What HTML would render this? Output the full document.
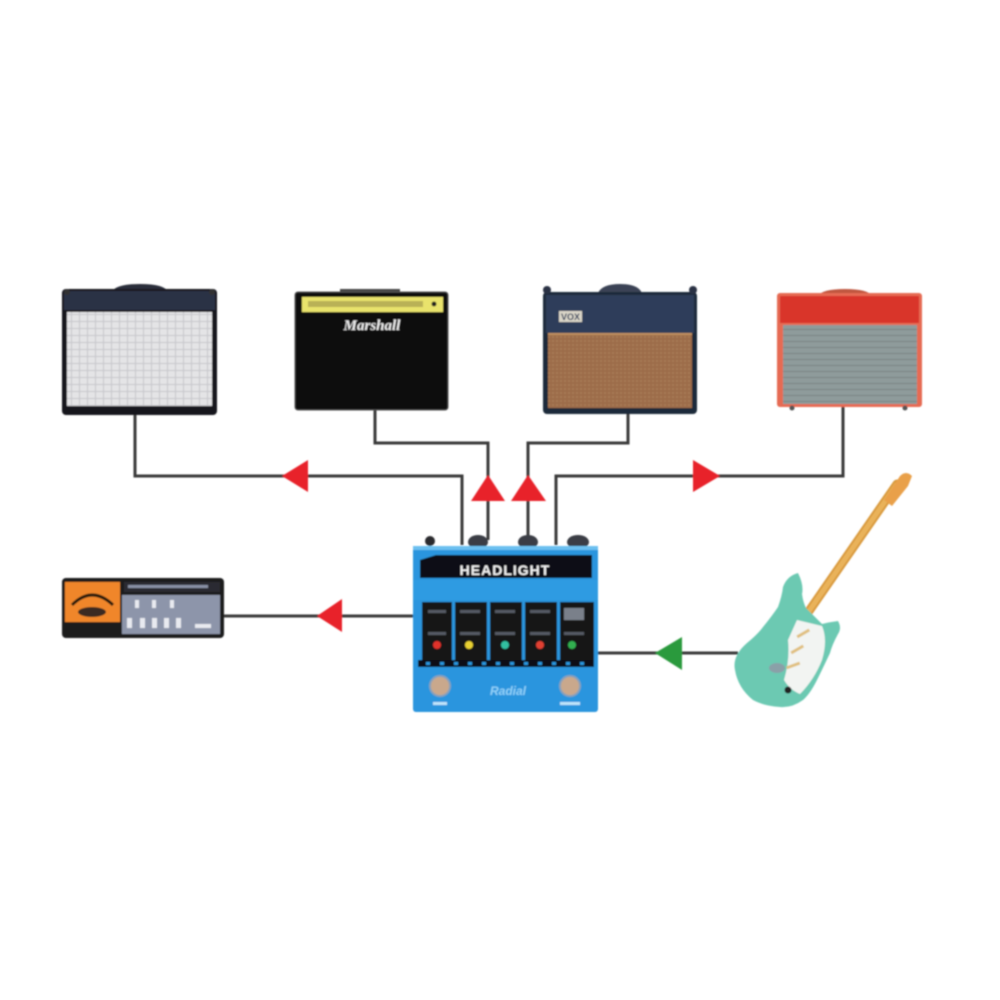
<!DOCTYPE html>
<html><head><meta charset="utf-8"><style>
html,body{margin:0;padding:0;background:#fff;}
svg{display:block;}
</style></head><body>
<svg width="1000" height="1000" viewBox="0 0 1000 1000" xmlns="http://www.w3.org/2000/svg">
<rect width="1000" height="1000" fill="#fff"/>
<defs>
<pattern id="fgrid" width="8" height="7" patternUnits="userSpaceOnUse">
<rect width="8" height="7" fill="#e4e4e6"/>
<path d="M0 6.5H8M7.5 0V7" stroke="#c6c6ca" stroke-width="1"/>
</pattern>
<pattern id="rgrid" width="6" height="6" patternUnits="userSpaceOnUse">
<rect width="6" height="6" fill="#8f9b9b"/>
<path d="M0 5.5H6" stroke="#7a8585" stroke-width="1.2"/>
</pattern>
<pattern id="vgrid" width="4" height="4" patternUnits="userSpaceOnUse">
<rect width="4" height="4" fill="#9c6c48"/>
<rect width="2" height="2" fill="#a87a55"/>
</pattern>
<filter id="soft" x="-5%" y="-5%" width="110%" height="110%"><feGaussianBlur stdDeviation="0.7"/></filter>
</defs>
<g filter="url(#soft)">
<!-- connectors -->
<g fill="none" stroke="#3a3a3a" stroke-width="3">
<polyline points="135,413 135,476 462,476 462,545"/>
<polyline points="375,408 375,443 488,443 488,540"/>
<polyline points="628,412 628,443 528,443 528,540"/>
<polyline points="843,405 843,476 556,476 556,545"/>
<line x1="222" y1="616" x2="414" y2="616"/>
<line x1="598" y1="653" x2="738" y2="653"/>
</g>
<g fill="#e8222a">
<polygon points="282,476 308,460 308,492"/>
<polygon points="488,475 471,501 505,501"/>
<polygon points="528,475 511,501 546,501"/>
<polygon points="720,476 693,460 693,492"/>
<polygon points="317,616 342,599 342,632"/>
</g>
<polygon points="655,653 682,637 682,670" fill="#2a9a3c"/>

<!-- Amp 1 Fender -->
<g>
<path d="M112 292 Q115 284 140 284 Q165 284 168 292 Z" fill="#2b2f3a"/>
<rect x="62" y="289" width="155" height="126" rx="4" fill="#17191f"/>
<rect x="64" y="291" width="151" height="19" fill="#2c3244"/>
<circle cx="67" cy="292" r="3" fill="#333"/><circle cx="212" cy="292" r="3" fill="#333"/>
<rect x="67" y="312" width="145" height="94" fill="url(#fgrid)"/>
</g>

<!-- Amp 2 Marshall -->
<g>
<rect x="340" y="289" width="60" height="5" fill="#444"/>
<rect x="295" y="292" width="153" height="118" rx="3" fill="#0c0c0e" stroke="#555" stroke-width="1"/>
<rect x="302" y="297" width="141" height="15" fill="#e9e36c"/>
<rect x="308" y="301" width="115" height="6" fill="#b9b156"/>
<circle cx="434" cy="304" r="2.5" fill="#222"/>
<text x="372" y="330" font-family="Liberation Serif, serif" font-style="italic" font-weight="bold" font-size="15" fill="#eee" text-anchor="middle">Marshall</text>
</g>

<!-- Amp 3 Vox -->
<g>
<path d="M598 293 Q602 284 620 284 Q638 284 642 293 Z" fill="#3a4254"/>
<rect x="543" y="292" width="154" height="122" rx="4" fill="#1f293b"/>
<circle cx="547" cy="290" r="4" fill="#2a3345"/><circle cx="693" cy="290" r="4" fill="#2a3345"/>
<rect x="546" y="295" width="148" height="38" fill="#2e3d5a"/>
<rect x="548" y="334" width="144" height="74" fill="url(#vgrid)"/>
<rect x="548" y="333" width="144" height="2" fill="#c09060"/>
<rect x="559" y="311" width="23" height="11" fill="#dad6c8"/>
<text x="570.5" y="320" font-family="Liberation Sans, sans-serif" font-weight="bold" font-size="9" fill="#2e3d5a" text-anchor="middle">VOX</text>
</g>

<!-- Amp 4 red -->
<g>
<path d="M818 296 Q822 289 845 289 Q868 289 872 296 Z" fill="#c0563f"/>
<rect x="777" y="293" width="145" height="114" rx="3" fill="#e66a52"/>
<rect x="780" y="296" width="139" height="27" fill="#d9342a"/>
<rect x="783" y="325" width="134" height="79" fill="url(#rgrid)"/>
<circle cx="792" cy="408" r="2.5" fill="#555"/><circle cx="905" cy="408" r="2.5" fill="#555"/>
</g>

<!-- Interface -->
<g>
<rect x="62" y="578" width="162" height="60" rx="4" fill="#1a1a1c"/>
<rect x="65" y="582" width="55" height="40" fill="#f0862c"/>
<path d="M72 605 Q92 585 113 605" fill="none" stroke="#2a1a10" stroke-width="3"/>
<ellipse cx="92" cy="612" rx="14" ry="5" fill="#3a2a20"/>
<rect x="70" y="623" width="45" height="12" fill="#1a1a1c"/>
<rect x="124" y="582" width="96" height="10" fill="#2a2a30"/>
<rect x="128" y="585" width="80" height="3" fill="#8890a4"/>
<rect x="122" y="595" width="98" height="39" fill="#8d95aa"/>
<g fill="#e8eaf0"><rect x="135" y="600" width="4" height="8"/><rect x="152" y="600" width="4" height="8"/><rect x="170" y="600" width="4" height="8"/>
<rect x="127" y="618" width="5" height="10"/><rect x="140" y="618" width="5" height="10"/><rect x="152" y="618" width="5" height="10"/><rect x="164" y="618" width="5" height="10"/><rect x="176" y="618" width="5" height="10"/><rect x="195" y="624" width="16" height="4"/></g>
</g>

<!-- Pedal -->
<g>
<circle cx="430" cy="541" r="5" fill="#2a2a2e"/>
<ellipse cx="478" cy="542" rx="10" ry="7" fill="#3a3d45"/>
<ellipse cx="528" cy="542" rx="10" ry="7" fill="#3a3d45"/>
<ellipse cx="578" cy="542" rx="11" ry="7" fill="#3a3d45"/>
<rect x="413" y="546" width="185" height="166" rx="3" fill="#2a95de"/>
<rect x="413" y="546" width="185" height="4" fill="#6cc0f0"/>
<path d="M420 560 L436 555 L592 555 L592 578 L420 578 Z" fill="#0d1015"/>
<text x="505" y="575" font-family="Liberation Sans, sans-serif" font-weight="bold" font-size="14" letter-spacing="1" fill="#f4f4f4" text-anchor="middle">HEADLIGHT</text>
<rect x="413" y="580" width="185" height="20" fill="#2f9be2"/>
<rect x="422" y="602" width="172" height="60" fill="#121418"/>
<g fill="#2a95de"><rect x="452" y="602" width="3" height="58"/><rect x="487" y="602" width="3" height="58"/><rect x="522" y="602" width="3" height="58"/><rect x="557" y="602" width="3" height="58"/></g>
<g fill="#555a64"><rect x="428" y="610" width="18" height="3"/><rect x="460" y="610" width="20" height="3"/><rect x="495" y="610" width="20" height="3"/><rect x="530" y="610" width="20" height="3"/><rect x="564" y="608" width="20" height="12" fill="#7a808a"/>
<rect x="428" y="632" width="18" height="3"/><rect x="460" y="632" width="20" height="3"/><rect x="495" y="632" width="20" height="3"/><rect x="530" y="632" width="20" height="3"/><rect x="564" y="632" width="20" height="3"/></g>
<circle cx="437" cy="645" r="4" fill="#e0302a"/>
<circle cx="469" cy="645" r="4" fill="#e8d030"/>
<circle cx="505" cy="645" r="4" fill="#30c0a0"/>
<circle cx="540" cy="645" r="4" fill="#e04030"/>
<circle cx="572" cy="645" r="4" fill="#30b050"/>
<rect x="418" y="660" width="176" height="7" fill="#0e0f12"/>
<g fill="#2a95de"><rect x="426" y="662" width="4" height="3"/><rect x="440" y="662" width="4" height="3"/><rect x="454" y="662" width="4" height="3"/><rect x="468" y="662" width="4" height="3"/><rect x="482" y="662" width="4" height="3"/><rect x="496" y="662" width="4" height="3"/><rect x="510" y="662" width="4" height="3"/><rect x="524" y="662" width="4" height="3"/><rect x="538" y="662" width="4" height="3"/><rect x="552" y="662" width="4" height="3"/><rect x="566" y="662" width="4" height="3"/><rect x="580" y="662" width="4" height="3"/></g>
<circle cx="440" cy="686" r="10" fill="#c9a88c" stroke="#8aa0b8" stroke-width="2"/>
<circle cx="570" cy="686" r="10" fill="#c9a88c" stroke="#8aa0b8" stroke-width="2"/>
<text x="508" y="695" font-family="Liberation Sans, sans-serif" font-weight="bold" font-style="italic" font-size="12" fill="#8fd0f8" text-anchor="middle">Radial</text>
<rect x="433" y="702" width="14" height="3" fill="#bfe4fa"/><rect x="560" y="702" width="20" height="3" fill="#bfe4fa"/>
</g>

<!-- Guitar -->
<g>
<path d="M807 614 L897 484" stroke="#d99a3c" stroke-width="9" stroke-linecap="round"/>
<path d="M807 614 L897 484" stroke="#e9b25a" stroke-width="5"/>
<path d="M884 500 L900 476 Q906 470 912 476 L908 486 L892 506 Z" fill="#e9a04a"/>
<path d="M798 573 Q804 585 802 594 Q803 602 806 608 L822 624 Q830 622 838 621 Q842 628 838 634 Q832 645 830 653 Q822 670 817 680 Q810 694 803 700 Q792 708 780 707 Q764 706 753 700 Q738 688 735 670 Q732 656 747 643 Q758 634 763 627 Q772 616 778 607 Q782 596 783 587 Q787 576 798 573 Z" fill="#6cc9b2"/>
<path d="M797 620 L822 626 Q828 640 822 660 Q814 680 800 694 Q790 690 784 680 Q790 660 788 640 Z" fill="#f2f4f2"/>
<g fill="#e0c080"><rect x="796" y="632" width="14" height="3" transform="rotate(-30 803 633)"/><rect x="790" y="648" width="14" height="3" transform="rotate(-30 797 649)"/><rect x="786" y="664" width="14" height="3" transform="rotate(-20 793 665)"/></g>
<ellipse cx="777" cy="668" rx="8" ry="5" fill="#8aa0a8"/>
<circle cx="788" cy="690" r="3.5" fill="#222"/>
</g>
</g>
</svg>
</body></html>
